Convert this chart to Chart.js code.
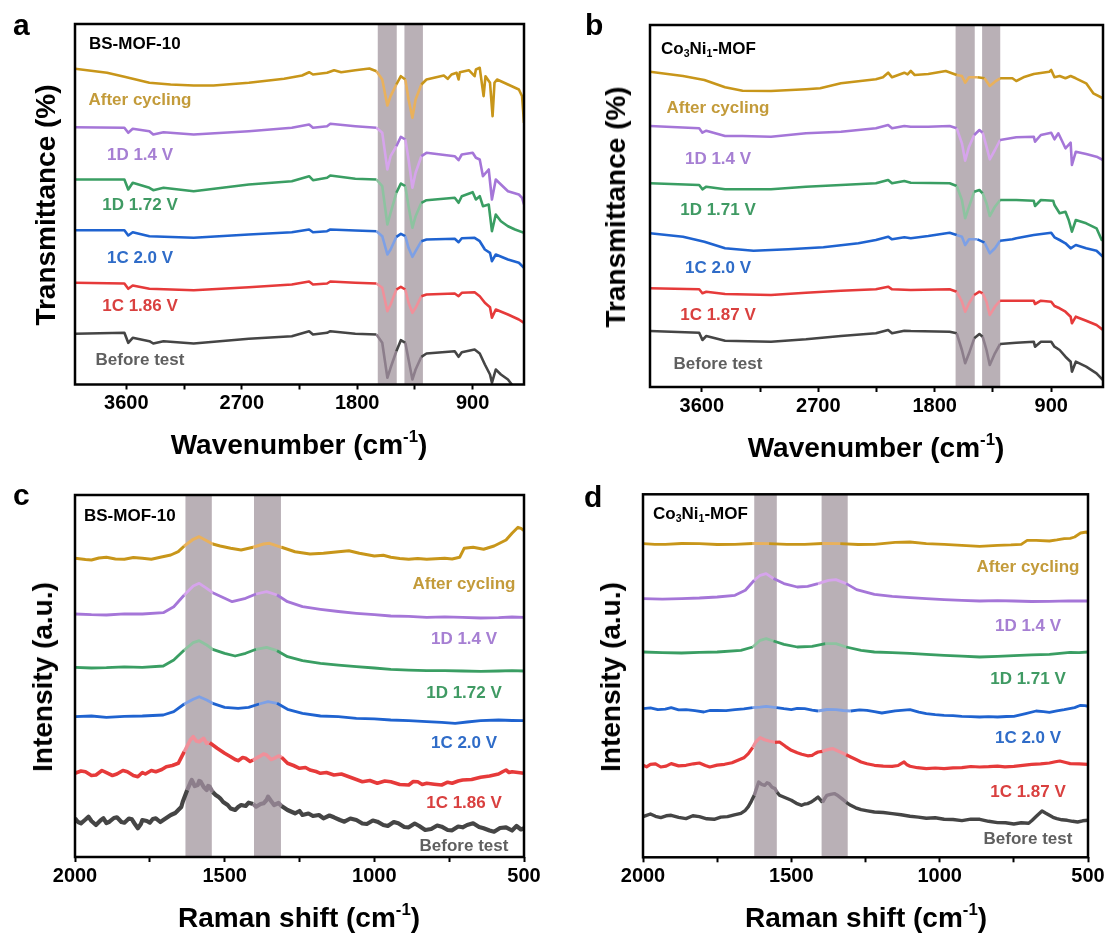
<!DOCTYPE html>
<html>
<head>
<meta charset="utf-8">
<script src="https://cdn.jsdelivr.net/npm/chart.js@4.4.1/dist/chart.umd.min.js"></script>
<style>
  body { margin: 0; background: #fff; }
  #fig { position: relative; width: 1108px; height: 935px; overflow: hidden;
         font-family: Arial, "Liberation Sans", sans-serif; font-weight: bold; }
  canvas { position: absolute; }
  .t { position: absolute; white-space: nowrap; line-height: 1; }
  .lbl { font-size: 17px; transform: translate(-50%, -50%); }
  .letter { font-size: 30px; color: #000; }
  .samp { font-size: 17px; color: #000; transform: translateY(-50%); }
  .xt { font-size: 28px; color: #000; transform: translate(-50%, -50%); }
  .yt { font-size: 28px; color: #000; transform: translate(-50%, -50%) rotate(-90deg); }
  sup { font-size: 60%; vertical-align: 0.7em; line-height: 0; }
  sub { font-size: 62%; vertical-align: -0.3em; line-height: 0; }
</style>
</head>
<body>
<div id="fig"></div>
<script>
// ---- data: [wavenumber / Raman shift (cm-1), offset signal] ----
// FTIR, BS-MOF-10 (panel a)
const ftirA_after = [[4000,315.7],[3750,311.7],[3615,307.7],[3420,301.7],[3255,300],[3075,299],[2920,299],[2645,301.7],[2370,305.7],[2230,309],[2175,312.3],[2145,310],[2035,311.7],[1980,314.3],[1925,312.3],[1815,314.3],[1705,316],[1650,313.3],[1605,305],[1565,279],[1540,288.3],[1495,300],[1460,308.3],[1425,305],[1400,285],[1370,266.7],[1345,285],[1300,300],[1260,305],[1125,309],[1095,305.7],[1065,310],[1025,311.7],[1010,305],[1000,312.3],[930,314.3],[885,308.3],[875,315],[845,316.7],[815,288.3],[800,308.3],[765,301.7],[745,268.3],[730,301.7],[710,305],[595,298.3],[540,295],[515,288.3],[500,261.7]];
const ftirA_d14 = [[4000,257.3],[3615,256.7],[3585,251.7],[3550,255.7],[3420,253.3],[3390,250],[3310,252.3],[3075,250],[2645,253.3],[2310,256.7],[2175,260],[2145,256.7],[2035,258.3],[2010,260.7],[1815,258.3],[1650,256.7],[1605,251.7],[1565,215],[1540,228.3],[1495,238.3],[1460,247.7],[1425,245],[1400,225],[1370,196.7],[1345,211.7],[1300,228.3],[1260,231.7],[1040,228.3],[1010,224.3],[985,230],[900,231.7],[875,226.7],[845,225],[820,208.3],[775,215],[750,185],[720,205],[680,200],[625,193.3],[540,190],[515,186.7],[500,180]];
const ftirA_d172 = [[4000,205],[3615,205],[3585,195],[3550,201.7],[3420,196.7],[3390,194.3],[3310,196.7],[3075,193.3],[2645,200],[2310,203.3],[2175,208.3],[2145,204.3],[2035,206.7],[2010,209],[1815,205.7],[1650,205],[1605,198.3],[1565,160],[1540,171.7],[1495,191.7],[1460,201],[1425,198.3],[1400,178.3],[1370,156.7],[1345,168.3],[1300,181.7],[1260,184.3],[1040,186.7],[1010,181.7],[985,188.3],[900,192.3],[875,185],[845,188.3],[820,178.3],[775,180],[750,153.3],[720,170],[680,163.3],[625,158.3],[570,155],[500,151.7]];
const ftirA_c20 = [[4000,154.3],[3615,154.3],[3585,149],[3550,152.3],[3420,148.3],[3075,146.7],[2645,150],[2310,152.3],[2175,155],[2145,152.3],[2035,153.3],[2010,155],[1815,154],[1650,153.3],[1605,148.3],[1565,130],[1540,135],[1495,147.7],[1460,150.7],[1425,148.3],[1400,136.7],[1370,127.7],[1345,133.3],[1300,143.3],[1260,145],[1040,145.7],[1010,142.3],[985,146.3],[885,146.7],[845,143.3],[805,135],[765,131.7],[750,123.3],[720,130],[625,125],[540,121.7],[500,116.7]];
const ftirA_c186 = [[4000,101.7],[3615,101],[3585,95.7],[3550,99],[3420,95.7],[3075,94.3],[2645,97.3],[2310,100],[2175,103],[2145,100],[2035,101],[2010,103],[1815,101.7],[1650,101],[1605,96.7],[1565,73.3],[1540,80],[1495,95],[1460,97.7],[1425,95],[1400,81.7],[1370,71.7],[1345,76.7],[1300,88.3],[1260,90],[1040,91],[1010,88.3],[985,91.7],[885,92.3],[845,88.3],[805,81.7],[765,77.3],[750,66.7],[720,75],[625,70],[540,65],[500,61.7]];
const ftirA_before = [[4000,50.7],[3615,51.7],[3585,41.7],[3550,46.7],[3420,43.3],[3390,41],[3310,43.3],[3075,41],[2645,45.7],[2310,48.3],[2175,53.3],[2145,50],[2035,51.7],[2010,53.3],[1815,50.7],[1650,50],[1605,41.7],[1565,6.7],[1540,16.7],[1495,33.3],[1460,44.3],[1425,41.7],[1400,25],[1370,5],[1345,15],[1300,27.7],[1260,31],[1040,33.3],[1010,27.7],[985,32.3],[885,35],[845,31],[805,20],[765,10],[750,1.7],[720,15],[680,10],[625,5],[585,-1.7],[500,-10]];

// FTIR, Co3Ni1-MOF (panel b)
const ftirB_after = [[4000,315.3],[3745,311],[3580,307],[3420,299.7],[3285,296.3],[3065,296],[2795,297.7],[2685,298.7],[2525,303.7],[2255,307.7],[2200,309.7],[2160,314.3],[2130,309.7],[2035,314.3],[2010,312.7],[1985,316],[1955,312],[1850,313],[1715,316],[1630,312],[1590,311],[1565,304.3],[1535,309.7],[1470,309.7],[1415,308.7],[1375,301],[1335,305.3],[1295,308.7],[1200,308.7],[1170,306],[1115,309.7],[1035,313],[915,315.3],[900,317],[875,309.7],[835,311],[790,308.7],[750,311],[710,308.7],[630,303.7],[575,293.7],[500,288.7]];
const ftirB_d14 = [[4000,261],[3620,258.7],[3595,254.3],[3565,256.3],[3420,251],[3285,251],[3065,250.3],[2795,253.7],[2525,255.3],[2255,258.7],[2160,262],[2130,258.7],[2035,261],[1985,260.3],[1850,260.3],[1685,261],[1630,258.7],[1590,243.7],[1565,226.3],[1535,240.3],[1495,252],[1455,257],[1430,254.3],[1400,240.3],[1375,227.7],[1335,237],[1295,247],[1170,249.7],[1035,250.3],[1025,245.3],[980,252],[900,254.3],[875,247.7],[845,253.7],[820,247],[790,238.7],[750,244.3],[740,222],[710,235.3],[630,233],[550,230.3],[500,227]];
const ftirB_d171 = [[4000,203.7],[3620,202],[3595,197.7],[3565,200.3],[3420,197.7],[3065,197.7],[2795,200.3],[2525,202],[2255,203.7],[2160,207],[2130,203.7],[2035,206],[1985,204.3],[1685,203.7],[1630,201],[1590,187],[1565,168.7],[1535,180.3],[1495,195.3],[1455,197],[1430,193.7],[1400,183.7],[1375,171],[1335,180.3],[1295,187],[1170,187],[1035,186.3],[1025,181],[980,187],[885,186.3],[875,182],[835,173.7],[790,175.3],[765,167],[740,155.3],[710,167],[630,163.7],[550,158.7],[510,147],[500,147]];
const ftirB_c20 = [[4000,153.7],[3745,150.3],[3580,145.3],[3420,138.7],[3200,136.3],[2930,137.7],[2660,139.7],[2390,143.7],[2255,147],[2160,150.3],[2130,147.7],[2035,149.7],[1985,148.7],[1850,151],[1685,154.3],[1630,152],[1590,150.3],[1565,142],[1535,147.7],[1470,147.7],[1415,144.3],[1375,133.7],[1335,138.7],[1295,146.3],[1200,147.7],[1170,148.7],[1035,152],[900,154.3],[875,149.7],[835,147],[790,143.7],[750,138.7],[710,142],[630,138.7],[550,136.3],[500,130.3]];
const ftirB_c187 = [[4000,98.7],[3620,97.7],[3595,93.7],[3565,95.3],[3420,93],[3065,92],[2795,94.3],[2525,96.3],[2255,97.7],[2160,100.3],[2130,97.7],[1985,97],[1685,97.7],[1630,95.3],[1590,85.3],[1565,75.3],[1535,83.7],[1495,92],[1455,95.3],[1430,93.7],[1400,85.3],[1375,72],[1335,80.3],[1295,86.3],[1170,86.3],[1035,86.3],[1025,83],[980,86.3],[900,85.3],[875,81],[835,78.7],[790,75.3],[750,70.3],[740,63.7],[710,70.3],[630,66.3],[550,62],[500,57]];
const ftirB_before = [[4000,56],[3620,54.3],[3595,47],[3565,51],[3420,46.3],[3065,45.3],[2795,47.7],[2525,51],[2255,53.7],[2160,57],[2130,53.7],[2035,56.3],[1985,56],[1685,55.3],[1630,53.7],[1590,37],[1565,23.7],[1535,33.7],[1495,48.7],[1455,53],[1430,50.3],[1400,37],[1375,22],[1335,33.7],[1295,43],[1170,44.3],[1035,45.3],[1025,40.3],[980,45.3],[900,45.3],[875,40.3],[835,37],[790,30.3],[750,25.3],[740,15.3],[710,25.3],[630,20.3],[550,13.7],[500,7]];

// Raman, BS-MOF-10 (panel c)
const ramC_after = [[2000,298.7],[1965,297.5],[1945,297],[1920,299],[1895,299.7],[1865,298],[1835,297.7],[1805,299.5],[1775,298.7],[1745,297.8],[1715,299.7],[1680,302],[1655,305.3],[1635,311],[1605,317.7],[1585,320.3],[1560,316.3],[1540,313],[1515,311],[1480,308.7],[1445,307],[1405,309.7],[1370,313],[1350,313.7],[1310,309.7],[1265,305.3],[1215,303],[1170,303.7],[1120,305.3],[1085,306.3],[1050,303.7],[1000,301],[970,301.8],[945,299.7],[915,298.5],[885,297.7],[855,298.6],[825,297.7],[795,298.3],[765,298.7],[740,298],[715,299.7],[700,308.7],[670,309.7],[635,307.7],[600,311],[560,317],[540,323.7],[520,329.7],[510,328.7],[500,326.3]];
const ramC_d14 = [[2000,243],[1945,242.3],[1895,242],[1835,243.2],[1775,243],[1705,244.3],[1670,250.3],[1635,262],[1605,271],[1585,273.7],[1560,268.7],[1540,264.3],[1500,258.7],[1475,255.3],[1430,258.7],[1395,263],[1360,265.3],[1325,262],[1290,255.3],[1240,250.3],[1180,247.7],[1120,245.5],[1060,243.7],[1000,242.3],[945,241],[885,240.6],[825,239.7],[765,240.2],[705,239.7],[645,239],[585,239.3],[540,240],[500,239.7]];
const ramC_d172 = [[2000,189.7],[1945,189],[1895,189.3],[1835,190.2],[1775,189.7],[1705,191],[1670,197],[1635,207],[1605,214.3],[1585,216.3],[1560,212],[1540,207.7],[1500,203.7],[1465,201],[1430,203.7],[1395,207.7],[1360,209.7],[1325,206.3],[1290,200.3],[1240,196.3],[1180,193.7],[1120,191.8],[1060,190.3],[1000,189],[945,187.7],[885,186.9],[825,186.3],[765,186.4],[705,186],[645,185.6],[585,186],[540,186.3],[500,186]];
const ramC_c20 = [[2000,140.3],[1945,141],[1895,139.7],[1835,140.6],[1775,141],[1705,142],[1670,145.3],[1635,153],[1605,157.7],[1585,160.3],[1560,157],[1540,153.7],[1500,149.7],[1455,148.7],[1420,149.7],[1385,153],[1355,155.3],[1325,153.7],[1290,147.7],[1240,143.7],[1180,141],[1120,140.3],[1060,138.7],[1000,138.2],[945,137],[885,136.4],[825,135.3],[775,134.6],[730,133.7],[690,135],[645,136.3],[585,137],[540,136.5],[500,136.3]];
const ramC_c186 = [[2000,83.7],[1980,86],[1965,85.3],[1945,81.5],[1930,82],[1910,86.5],[1895,84.3],[1875,81.5],[1860,83],[1840,86.5],[1825,85.3],[1805,81.5],[1790,80.3],[1775,84.5],[1765,83],[1745,86.5],[1730,85.3],[1710,87.5],[1695,90.3],[1675,91.5],[1655,93.7],[1635,105.3],[1615,117],[1605,120.3],[1595,116],[1585,115.3],[1570,118.7],[1560,113.5],[1550,114.3],[1535,111],[1525,108.7],[1500,103.7],[1480,100.3],[1465,97.5],[1455,96.3],[1440,99.5],[1430,98.7],[1415,95.5],[1405,97],[1385,100.3],[1370,103],[1360,102],[1345,97.5],[1335,98.7],[1320,101],[1310,99.7],[1290,93.7],[1270,91.5],[1250,88.7],[1230,89.5],[1215,87],[1195,85.5],[1180,83.7],[1160,84.5],[1135,82],[1110,83],[1085,80.3],[1060,77.5],[1040,75.3],[1015,76.5],[990,73.7],[965,76],[945,75.3],[915,72.5],[885,72],[870,75.5],[855,75.3],[840,72.5],[825,73.7],[800,72.8],[775,72],[755,74.8],[740,73.7],[720,76],[705,77],[675,77.5],[645,79.7],[615,81],[585,83],[570,85.5],[560,87],[550,84.5],[540,85.3],[520,84.5],[500,83.7]];
const ramC_before = [[2000,38.7],[1990,35],[1980,33.7],[1965,37.5],[1955,40.3],[1945,36],[1930,32],[1915,36.5],[1905,38.7],[1895,34],[1885,35.3],[1870,39],[1860,39.7],[1845,35],[1835,34.3],[1820,38.5],[1810,37.7],[1800,33],[1790,28.7],[1780,33],[1775,37],[1760,36],[1750,34.3],[1740,38],[1730,38.7],[1715,35],[1705,37],[1690,40],[1680,42],[1665,44],[1655,47],[1645,50],[1640,55.3],[1625,67],[1615,74],[1610,77],[1600,71],[1590,72],[1585,76],[1580,75.3],[1570,70],[1560,67],[1555,71],[1550,70.3],[1540,65],[1530,62],[1520,60],[1515,58.7],[1505,55],[1490,52],[1480,48.5],[1465,47],[1455,50],[1445,52],[1430,51],[1420,54.3],[1405,53],[1395,50.3],[1380,53],[1370,53.7],[1360,57],[1355,60.3],[1345,56],[1335,52],[1320,54],[1310,51],[1300,49],[1290,47],[1275,45],[1265,43.7],[1250,46],[1240,42],[1220,43.5],[1205,41],[1185,42],[1170,38.7],[1150,41.5],[1135,39.7],[1115,37],[1100,35.3],[1080,38.5],[1060,37],[1040,33.5],[1025,33],[1005,36.5],[990,35.3],[970,32],[955,31],[935,35],[920,33.7],[900,30],[885,29.7],[865,33.5],[850,31],[830,27],[810,28],[790,31.5],[775,30.3],[755,27],[740,26.7],[720,30.5],[705,29.7],[690,32],[670,33.7],[650,30],[635,28.7],[615,26.5],[600,25.3],[580,29],[560,29.7],[540,26.5],[525,31],[510,27.5],[500,28.7]];

// Raman, Co3Ni1-MOF (panel d)
const ramD_after = [[2000,313.7],[1960,312.9],[1925,313],[1870,313.8],[1810,313.7],[1750,312.8],[1690,313],[1630,313.8],[1575,313.7],[1515,312.9],[1455,313],[1395,313.8],[1335,313.7],[1275,312.8],[1220,313],[1185,314],[1150,315],[1100,315.3],[1045,313.7],[985,313],[925,312],[865,311],[805,312],[760,312.4],[725,313],[705,317],[675,317],[630,316.3],[605,317.4],[580,318.7],[560,319],[545,320.3],[525,324.3],[505,325.3],[500,323.7]];
const ramD_d14 = [[2000,258.7],[1935,258.2],[1870,258.7],[1810,259.3],[1750,260.3],[1690,262],[1655,267],[1625,277],[1605,282],[1585,283.7],[1560,278.7],[1525,273.7],[1480,270.3],[1445,271],[1410,273.7],[1375,277],[1350,277.7],[1315,273.7],[1280,267.7],[1220,263],[1160,261],[1100,259.7],[1045,258.6],[985,257.7],[925,257],[865,256.3],[805,256.6],[750,256.3],[690,255.8],[630,256],[565,256.4],[500,256.3]];
const ramD_d171 = [[2000,205.3],[1935,204.6],[1870,204.3],[1810,205],[1750,205.3],[1670,207],[1630,210.3],[1605,217],[1585,218.7],[1560,216.3],[1525,213],[1480,210.3],[1430,211],[1385,213.7],[1350,213.7],[1315,210.3],[1265,207],[1220,205.3],[1160,204.6],[1100,204],[1045,203],[985,202],[925,201.2],[865,200.3],[805,201],[750,201.7],[690,202.4],[630,203],[560,205],[530,204.6],[500,205.3]];
const ramD_c20 = [[2000,148.7],[1975,149.5],[1950,147.7],[1925,148.2],[1905,149.7],[1880,147.4],[1855,147.7],[1825,146.6],[1795,145.3],[1775,146.8],[1750,147],[1720,146.6],[1690,147.7],[1660,148.5],[1630,149.7],[1605,150.2],[1585,151],[1550,149.7],[1525,148.6],[1500,147.7],[1480,149],[1455,148.7],[1430,147.2],[1410,146.3],[1380,147.8],[1350,147.7],[1325,146.8],[1300,146.3],[1270,147.5],[1245,147],[1220,145.6],[1195,144.3],[1150,146.5],[1100,147.7],[1070,145.2],[1045,143.7],[1015,142.6],[985,142],[955,141.6],[925,141],[895,140.6],[865,140.3],[835,140.6],[805,140.3],[775,140.8],[750,141],[710,143.7],[675,146.3],[650,145.6],[630,145],[605,146.5],[580,147.7],[545,149.7],[525,152],[510,151.6],[500,151]];
const ramD_c187 = [[2000,92],[1988,90.5],[1975,93],[1958,93.5],[1940,90.3],[1922,91.2],[1905,93.7],[1880,91.4],[1855,92],[1830,93.5],[1810,94.3],[1790,91.8],[1775,90.3],[1750,92.2],[1725,93],[1700,94.6],[1680,97],[1660,99.5],[1645,103.7],[1630,110],[1620,115.3],[1605,119.7],[1590,117.5],[1575,116.3],[1555,115],[1540,115.3],[1520,111],[1500,107],[1480,104.5],[1465,103],[1445,101.5],[1430,102],[1420,103.8],[1410,105.3],[1395,106],[1385,107],[1370,108.2],[1360,108.7],[1345,106.5],[1335,105.3],[1315,102.5],[1300,100.3],[1280,97.5],[1265,95.3],[1245,93.5],[1220,92],[1190,91.2],[1160,91],[1140,91.8],[1130,93.7],[1120,95.3],[1110,92.5],[1100,91],[1075,89.6],[1045,88.7],[1015,89.3],[985,88.7],[955,89.4],[925,89.7],[895,90.8],[865,90.3],[835,90.6],[805,91.2],[780,90.5],[750,91],[720,92],[690,93],[660,93.5],[630,94.3],[610,95.5],[595,96.3],[575,94.8],[560,93.7],[530,93.5],[500,93]];
const ramD_before = [[2000,40.7],[1988,42],[1975,43.3],[1958,41],[1940,39.7],[1922,41.5],[1905,42],[1880,40],[1855,38.7],[1832,41.5],[1810,40.7],[1785,38.5],[1760,38],[1738,40.2],[1715,40.7],[1692,42.5],[1670,44],[1655,47],[1645,50.7],[1635,56],[1625,62],[1615,71],[1610,75.3],[1600,73],[1590,72],[1582,74.5],[1575,73.7],[1565,70],[1555,68.7],[1548,65],[1540,62],[1520,59.5],[1500,57],[1483,54],[1465,52],[1455,53.3],[1445,53.7],[1435,55],[1425,57],[1418,58.5],[1410,60.3],[1402,57.5],[1395,55],[1388,58.5],[1380,62],[1368,63],[1355,63.7],[1342,61.5],[1330,58.7],[1315,55],[1300,52],[1283,49.5],[1265,47.7],[1243,46.5],[1220,45.3],[1190,44.8],[1160,43.7],[1130,42.5],[1100,41],[1072,40.2],[1045,39],[1015,39.5],[985,38],[955,37.8],[925,36.7],[895,38.2],[865,38],[835,36],[805,34.7],[778,34.5],[750,33.3],[725,34.5],[700,34],[688,37],[675,40.7],[665,43.5],[655,46.3],[642,44],[630,42],[618,40],[605,38.7],[588,37.5],[570,37],[552,36],[535,35.3],[518,36.5],[500,37]];

// ---- axes, bands, labels ----
const ftirTicks = [3600, 3150, 2700, 2250, 1800, 1350, 900];
const ftirTickLabels = [3600, 2700, 1800, 900];
const ramanTicks = [2000, 1750, 1500, 1250, 1000, 750, 500];
const ramanTickLabels = [2000, 1500, 1000, 500];
const bandsA = [[1640, 1492], [1432, 1288]];
const bandsB = [[1639, 1491], [1434, 1294]];
const bandsC = [[1631, 1543], [1402, 1312]];
const bandsD = [[1625, 1549], [1398, 1310]];
const namesBS = ['After cycling', '1D 1.4 V', '1D 1.72 V', '1C 2.0 V', '1C 1.86 V', 'Before test'];
const namesCoNi = ['After cycling', '1D 1.4 V', '1D 1.71 V', '1C 2.0 V', '1C 1.87 V', 'Before test'];
const lineColors = ['#C8961A', '#A576D8', '#3A9E63', '#1F63D0', '#E63A3A', '#454545'];
const bandLineColors = ['#E9B15C', '#D6A4EC', '#8DC3A0', '#7DA0E6', '#F0909A', '#8C7E8B'];
const textColors = ['#C39B3A', '#A67FD3', '#3F9A63', '#2F6CC8', '#D9403F', '#5F5F5F'];

const fig = document.getElementById('fig');

const inBand = (v, bands) => bands.some(([a, b]) => v <= Math.max(a, b) && v >= Math.min(a, b));

const framePlugin = {
  id: 'frame',
  beforeDatasetsDraw(chart, args, opts) {
    const { ctx, chartArea: a } = chart;
    const x = chart.scales.x;
    ctx.save();
    ctx.fillStyle = '#B9B0B6';
    opts.bands.forEach(([b1, b2]) => {
      const x1 = x.getPixelForValue(b1), x2 = x.getPixelForValue(b2);
      ctx.fillRect(Math.min(x1, x2), a.top, Math.abs(x2 - x1), a.bottom - a.top);
    });
    ctx.restore();
  },
  afterDatasetsDraw(chart) {
    const { ctx, chartArea: a } = chart;
    ctx.save();
    ctx.strokeStyle = '#000';
    ctx.lineWidth = 2.5;
    ctx.strokeRect(a.left, a.top, a.right - a.left, a.bottom - a.top);
    ctx.restore();
  }
};

function addText(cls, html, left, top, color) {
  const d = document.createElement('div');
  d.className = 't ' + cls;
  d.innerHTML = html;
  d.style.left = left + 'px';
  d.style.top = top + 'px';
  if (color) d.style.color = color;
  fig.appendChild(d);
}

function makePanel(p) {
  const cv = document.createElement('canvas');
  cv.width = p.w; cv.height = p.h;
  cv.style.left = p.x + 'px'; cv.style.top = p.y + 'px';
  fig.appendChild(cv);

  new Chart(cv, {
    type: 'line',
    data: {
      datasets: p.series.map((s, i) => ({
        label: p.names[i],
        data: s.map(([x, y]) => ({ x, y })),
        borderColor: lineColors[i],
        borderWidth: p.widths[i],
        borderJoinStyle: 'round',
        pointRadius: 0,
        tension: 0,
        clip: 0,
        segment: {
          borderColor: c => inBand((c.p0.parsed.x + c.p1.parsed.x) / 2, p.bands) ? bandLineColors[i] : lineColors[i]
        }
      }))
    },
    options: {
      responsive: false,
      animation: false,
      devicePixelRatio: 1,
      layout: { padding: p.pad },
      plugins: { legend: { display: false }, tooltip: { enabled: false }, frame: { bands: p.bands } },
      scales: {
        x: {
          type: 'linear', reverse: true, min: p.xmin, max: p.xmax,
          afterBuildTicks: s => { s.ticks = p.ticks.map(v => ({ value: v })); },
          afterFit: s => { s.height = 30; },
          border: { display: false },
          grid: { drawOnChartArea: false, drawTicks: true, tickLength: 5, tickWidth: 2, tickColor: '#000' },
          ticks: {
            autoSkip: false, maxRotation: 0, padding: 2, color: '#000',
            font: { family: 'Arial, "Liberation Sans", sans-serif', size: 20, weight: 'bold' },
            callback: v => p.tickLabels.includes(v) ? String(v) : ''
          }
        },
        y: { display: false, min: 0, max: p.ymax }
      }
    },
    plugins: [framePlugin]
  });

  p.names.forEach((n, i) => addText('lbl', n, p.lblX, p.lblY[i], textColors[i]));
  addText('letter', p.letter, p.letterPos[0], p.letterPos[1]);
  addText('samp', p.sample, p.sampPos[0], p.sampPos[1]);
  addText('xt', p.xTitle, p.xtPos[0], p.xtPos[1]);
  addText('yt', p.yTitle, p.ytPos[0], p.ytPos[1]);
}

const wnTitle = 'Wavenumber (cm<sup>-1</sup>)';
const ramanTitle = 'Raman shift (cm<sup>-1</sup>)';
const bsName = 'BS-MOF-10';
const coniName = 'Co<sub>3</sub>Ni<sub>1</sub>-MOF';

makePanel({
  x: 0, y: 0, w: 554, h: 467, pad: { left: 75, right: 30, top: 24, bottom: 52.5 },
  xmin: 500, xmax: 4000, ymax: 360.5, ticks: ftirTicks, tickLabels: ftirTickLabels, bands: bandsA,
  series: [ftirA_after, ftirA_d14, ftirA_d172, ftirA_c20, ftirA_c186, ftirA_before], names: namesBS,
  widths: [2.6, 2.6, 2.6, 2.6, 2.6, 2.6],
  lblX: 140, lblY: [99, 154, 204, 257, 305, 359],
  letter: 'a', letterPos: [13, 10], sample: bsName, sampPos: [89, 43],
  xTitle: wnTitle, xtPos: [299, 445], yTitle: 'Transmittance (%)', ytPos: [46, 205]
});
makePanel({
  x: 554, y: 0, w: 554, h: 467, pad: { left: 96, right: 5, top: 25, bottom: 50 },
  xmin: 500, xmax: 4000, ymax: 362, ticks: ftirTicks, tickLabels: ftirTickLabels, bands: bandsB,
  series: [ftirB_after, ftirB_d14, ftirB_d171, ftirB_c20, ftirB_c187, ftirB_before], names: namesCoNi,
  widths: [2.6, 2.6, 2.6, 2.6, 2.6, 2.6],
  lblX: 718, lblY: [107, 158, 209, 267, 314, 363],
  letter: 'b', letterPos: [585, 10], sample: coniName, sampPos: [661, 48],
  xTitle: wnTitle, xtPos: [876, 448], yTitle: 'Transmittance (%)', ytPos: [616, 207]
});
makePanel({
  x: 0, y: 467, w: 554, h: 468, pad: { left: 75, right: 30, top: 28, bottom: 48 },
  xmin: 500, xmax: 2000, ymax: 362, ticks: ramanTicks, tickLabels: ramanTickLabels, bands: bandsC,
  series: [ramC_after, ramC_d14, ramC_d172, ramC_c20, ramC_c186, ramC_before], names: namesBS,
  widths: [3, 2.8, 2.8, 2.8, 3.6, 4.2],
  lblX: 464, lblY: [583, 638, 692, 742, 802, 845],
  letter: 'c', letterPos: [13, 480], sample: bsName, sampPos: [84, 515],
  xTitle: ramanTitle, xtPos: [299, 918], yTitle: 'Intensity (a.u.)', ytPos: [43, 677]
});
makePanel({
  x: 554, y: 467, w: 554, h: 468, pad: { left: 89, right: 20, top: 27.3, bottom: 47.7 },
  xmin: 500, xmax: 2000, ymax: 363, ticks: ramanTicks, tickLabels: ramanTickLabels, bands: bandsD,
  series: [ramD_after, ramD_d14, ramD_d171, ramD_c20, ramD_c187, ramD_before], names: namesCoNi,
  widths: [2.8, 2.8, 2.8, 2.8, 3.2, 3.4],
  lblX: 1028, lblY: [566, 625, 678, 737, 791, 838],
  letter: 'd', letterPos: [584, 482], sample: coniName, sampPos: [653, 513],
  xTitle: ramanTitle, xtPos: [866, 918], yTitle: 'Intensity (a.u.)', ytPos: [611, 677]
});
</script>
</body>
</html>
